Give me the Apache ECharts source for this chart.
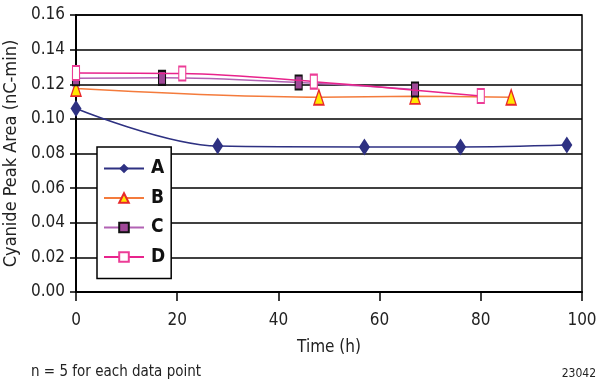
<!DOCTYPE html>
<html>
<head>
<meta charset="utf-8">
<script src="https://cdn.jsdelivr.net/npm/echarts@6/dist/echarts.min.js"></script>
<style>
  html, body { margin: 0; padding: 0; background: #fff; }
  #chart { width: 609px; height: 385px; }
</style>
</head>
<body>
<div id="chart"></div>
<script>
// Cyanide peak area over time for four samples (n = 5 per point)
var timeA = [0, 28, 57, 76, 97];
var valuesA = [0.106, 0.0843, 0.0838, 0.0838, 0.0849];

var timeB = [0, 48, 67, 86];
var valuesB = [0.1175, 0.1125, 0.113, 0.1125];

var timeC = [0, 17, 44, 67];
var valuesC = [0.1235, 0.1237, 0.121, 0.117];

var timeD = [0, 21, 47, 80];
var valuesD = [0.1265, 0.1262, 0.1215, 0.1132];

var yTicks = [0, 0.02, 0.04, 0.06, 0.08, 0.10, 0.12, 0.14, 0.16];
var xTicks = [0, 20, 40, 60, 80, 100];

function pairs(xs, ys) {
  return xs.map(function (x, i) { return [x, ys[i]]; });
}

var FONT = '"Liberation Sans Narrow", "DejaVu Sans Condensed", sans-serif';

var chart = echarts.init(document.getElementById('chart'), null, { renderer: 'canvas' });

chart.setOption({
  animation: false,
  backgroundColor: '#ffffff',
  grid: {
    left: 76, right: 27, top: 15, bottom: 93,
    outerBoundsMode: 'none', containLabel: false,
    show: true, borderColor: '#000', borderWidth: 1.5
  },
  xAxis: {
    type: 'value',
    min: xTicks[0],
    max: xTicks[xTicks.length - 1],
    interval: 20,
    name: 'Time (h)',
    nameLocation: 'middle',
    nameGap: 47,
    nameTextStyle: { fontFamily: FONT, fontSize: 17, color: '#222' },
    axisLine: { lineStyle: { color: '#000', width: 2 } },
    axisTick: { show: true, length: 9, lineStyle: { color: '#000', width: 1.5 } },
    axisLabel: { fontFamily: FONT, fontSize: 17, color: '#222', margin: 20 },
    splitLine: { show: false }
  },
  yAxis: {
    type: 'value',
    min: yTicks[0],
    max: yTicks[yTicks.length - 1],
    interval: 0.02,
    name: 'Cyanide Peak Area (nC-min)',
    nameLocation: 'middle',
    nameGap: 53,
    nameTextStyle: { fontFamily: FONT, fontSize: 18, color: '#222' },
    axisLine: { show: true, lineStyle: { color: '#000', width: 2 } },
    axisTick: { show: true, length: 6, lineStyle: { color: '#000', width: 1.5 } },
    axisLabel: {
      fontFamily: FONT, fontSize: 17, color: '#222', margin: 11,
      formatter: function (v) { return v.toFixed(2); }
    },
    splitLine: { show: true, lineStyle: { color: '#000', width: 1.5 } }
  },
  legend: {
    orient: 'vertical',
    left: 97,
    top: 147,
    padding: [12, 6, 12, 6],
    itemWidth: 40,
    itemHeight: 12,
    itemGap: 10.5,
    backgroundColor: '#fff',
    borderColor: '#000',
    borderWidth: 1.5,
    textStyle: { fontFamily: FONT, fontSize: 19, fontWeight: 'bold', color: '#111', padding: [0, 0, 0, 2] },
    data: ['A', 'B', 'C', 'D']
  },
  series: [
    {
      name: 'A', type: 'line', smooth: 0.35,
      data: pairs(timeA, valuesA),
      symbol: 'diamond', symbolSize: [11, 17],
      lineStyle: { color: '#2E3182', width: 1.5 },
      itemStyle: { color: '#2E3182', borderColor: '#2E3182', borderWidth: 0 },
      z: 3
    },
    {
      name: 'B', type: 'line', smooth: 0.35,
      data: pairs(timeB, valuesB),
      symbol: 'triangle', symbolSize: [10, 15],
      lineStyle: { color: '#F47B3C', width: 1.5 },
      itemStyle: { color: '#FFE800', borderColor: '#E8282A', borderWidth: 1.5 },
      z: 4
    },
    {
      name: 'C', type: 'line', smooth: 0.35,
      data: pairs(timeC, valuesC),
      symbol: 'rect', symbolSize: [7, 14],
      lineStyle: { color: '#B262B4', width: 1.5 },
      itemStyle: { color: '#A04898', borderColor: '#111', borderWidth: 1.5 },
      z: 5
    },
    {
      name: 'D', type: 'line', smooth: 0.35,
      data: pairs(timeD, valuesD),
      symbol: 'rect', symbolSize: [7, 14],
      lineStyle: { color: '#E8238C', width: 1.5 },
      itemStyle: { color: '#ffffff', borderColor: '#EC3C96', borderWidth: 1.5 },
      z: 6
    }
  ],
  graphic: [
    {
      type: 'text', left: 31, top: 365,
      style: { text: 'n = 5 for each data point', font: '15px ' + FONT, fill: '#222' }
    },
    {
      type: 'text', right: 13, top: 368,
      style: { text: '23042', font: '12px ' + FONT, fill: '#222' }
    }
  ]
});
</script>
</body>
</html>
